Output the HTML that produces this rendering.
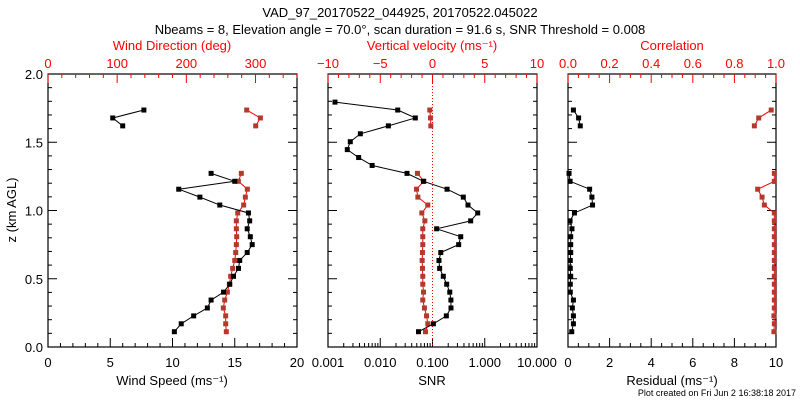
<!DOCTYPE html>
<html><head><meta charset="utf-8"><style>
html,body{margin:0;padding:0;background:#fff}
svg{display:block;font-family:"Liberation Sans",sans-serif}
</style></head><body>
<svg id="c" width="800" height="400" viewBox="0 0 800 400" xmlns="http://www.w3.org/2000/svg">
<text x="400" y="17" text-anchor="middle" font-size="13">VAD_97_20170522_044925, 20170522.045022</text>
<text x="400" y="34" text-anchor="middle" font-size="13">Nbeams = 8, Elevation angle = 70.0°, scan duration = 91.6 s, SNR Threshold = 0.008</text>
<text transform="translate(16,210) rotate(-90)" text-anchor="middle" font-size="13">z (km AGL)</text>
<text x="796" y="396" text-anchor="end" font-size="9">Plot created on Fri Jun  2 16:38:18 2017</text>
<g id="g"></g>
</svg>
<script>
const levels=[0.112,0.170,0.228,0.286,0.344,0.402,0.460,0.518,0.576,0.634,0.692,0.750,0.808,0.866,0.924,0.982,1.040,1.098,1.156,1.214,1.272,1.330,1.388,1.446,1.504,1.562,1.620,1.678,1.736,1.794];
const lowIdx=[0,1,2,3,4,5,6,7,8,9,10,11,12,13,14,15,16,17,18,19,20];
const highIdx=[26,27,28];
const windSpeed=[10.15,10.7,11.7,12.8,13.1,14.1,14.6,14.9,15.3,15.4,16.0,16.4,16.25,16.0,16.2,16.1,13.8,12.2,10.5,15.0,13.1];
const windSpeedHigh=[6.0,5.2,7.7];
const windDir=[257.8,256.9,256.9,253.5,255.5,259.3,262.2,264.1,267,270,271.4,272.3,272.8,272.3,272.3,274.3,282.9,285.3,288.2,275.2,279.5];
const windDirHigh=[300.3,307,287.3];
const snrIdx=[0,1,2,3,4,5,6,7,8,9,10,11,12,13,14,15,16,17,18,19,20,21,22,23,24,25,26,27,28,29];
const snr=[0.054,0.104,0.184,0.226,0.225,0.214,0.187,0.161,0.137,0.133,0.144,0.317,0.347,0.120,0.538,0.733,0.478,0.389,0.190,0.067,0.0325,0.0070,0.00386,0.00234,0.00267,0.00416,0.0143,0.0469,0.0216,0.00136];
const wVel=[-0.67,-0.45,-0.57,-0.77,-0.93,-0.86,-0.93,-0.93,-0.96,-0.99,-0.96,-0.93,-0.93,-0.93,-0.73,-1.02,-0.45,-1.40,-1.53,-0.83,-1.44];
const wVelHigh=[-0.16,-0.19,-0.26];
const resid=[0.18,0.26,0.26,0.21,0.26,0.11,0.11,0.13,0.11,0.11,0.13,0.13,0.13,0.19,0.10,0.31,1.18,1.15,1.04,0.10,0.05];
const residHigh=[0.59,0.51,0.26];
const corr=[0.990,0.992,0.990,0.992,0.992,0.992,0.992,0.992,0.992,0.992,0.992,0.992,0.992,0.992,0.992,0.992,0.944,0.933,0.912,0.992,0.992];
const corrHigh=[0.896,0.917,0.977];

const NS='http://www.w3.org/2000/svg';
const G=document.getElementById('g');
const RED='#ff0000', MRK='#b33a2a';
const Y0=347,Y1=74;
const yz=z=>Y0-(z/2.0)*(Y0-Y1);
function el(t,a,p){const e=document.createElementNS(NS,t);for(const k in a)e.setAttribute(k,a[k]);(p||G).appendChild(e);return e;}
function txt(x,y,s,col,size,anchor,name){const t=el('text',{x:x,y:y,'font-size':size||13,fill:col||'#000','text-anchor':anchor||'middle'});t.textContent=s;


return t;}

function panel(x0,x1,pn,left){
  const r=el('rect',{x:x0,y:Y1,width:x1-x0,height:Y0-Y1,fill:'none',stroke:'#000','stroke-width':1.2});
  
  
  // y ticks
  for(let i=0;i<=20;i++){const z=i*0.1,y=yz(z),L=(i%5==0)?9:4;
    el('line',{x1:x0,y1:y,x2:x0+L,y2:y,stroke:'#000'});
    el('line',{x1:x1,y1:y,x2:x1-L,y2:y,stroke:'#000'});
    if(left&&i%5==0)txt(x0-5,y+5,z.toFixed(1),'#000',13,'end','y-tick-label');
  }
}
function linAxis(x0,x1,min,max,major,minor,top,col,fmt,name){
  const y=top?Y1:Y0,d=top?1:-1;
  const n=Math.round((max-min)/minor);
  for(let i=0;i<=n;i++){const v=min+i*minor,x=x0+(v-min)/(max-min)*(x1-x0);
    const isM=Math.abs(v/major-Math.round(v/major))<1e-6;
    el('line',{x1:x,y1:y,x2:x,y2:y+d*(isM?9:4),stroke:col});
    if(isM)txt(x,top?y-6:y+20,fmt(v),col,13,'middle',name);
  }
}
function logAxis(x0,x1,labs){
  const W=(x1-x0)/4;
  for(let dcd=0;dcd<4;dcd++)for(let m=1;m<=9;m++){const x=x0+(dcd+Math.log10(m))*W;
    el('line',{x1:x,y1:Y0,x2:x,y2:Y0-(m==1?9:4),stroke:'#000'});}
  el('line',{x1:x1,y1:Y0,x2:x1,y2:Y0-9,stroke:'#000'});
  for(let i=0;i<labs.length;i++)txt(x0+i*W,Y0+20,labs[i],'#000',13,'middle','snr-tick-label');
}
function series(xs,idx,xf,lc,mc,name){
  const pts=idx.map((k,i)=>[xf(xs[i]),yz(levels[k])]);
  const p=el('polyline',{points:pts.map(p=>p.join(',')).join(' '),fill:'none',stroke:lc,'stroke-width':1});
  
  
  pts.forEach(q=>{const m=el('rect',{x:q[0]-2.5,y:q[1]-2.5,width:5,height:5,fill:mc});
    
    });
}
// Panel 1
const P1=[48,297];
panel(P1[0],P1[1],'wind',true);
linAxis(P1[0],P1[1],0,20,5,1,false,'#000',v=>String(v),'speed-tick-label');
linAxis(P1[0],P1[1],0,360,100,20,true,RED,v=>String(v),'direction-tick-label');
const xs1=v=>P1[0]+v/20*(P1[1]-P1[0]), xd1=v=>P1[0]+v/360*(P1[1]-P1[0]);
series(windDir,lowIdx,xd1,RED,MRK,'wind-direction');
series(windDirHigh,highIdx,xd1,RED,MRK,'wind-direction-upper');
series(windSpeed,lowIdx,xs1,'#000','#000','wind-speed');
series(windSpeedHigh,highIdx,xs1,'#000','#000','wind-speed-upper');
txt(172,50,'Wind Direction (deg)',RED,13,'middle','top-axis-title-direction');
txt(172,385,'Wind Speed (ms\u207B\u00B9)','#000',13,'middle','x-axis-title-speed');
// Panel 2
const P2=[328,537];
panel(P2[0],P2[1],'snr',false);
logAxis(P2[0],P2[1],['0.001','0.010','0.100','1.000','10.000']);
linAxis(P2[0],P2[1],-10,10,5,1,true,RED,v=>(v<0?'\u2212'+(-v):String(v)),'velocity-tick-label');
const xv=v=>P2[0]+(v+10)/20*(P2[1]-P2[0]), xl=v=>P2[0]+(Math.log10(v)+3)/4*(P2[1]-P2[0]);
const zl=el('line',{x1:xv(0),y1:Y1,x2:xv(0),y2:Y0,stroke:RED,'stroke-dasharray':'1,2'});


series(wVel,lowIdx,xv,RED,MRK,'vertical-velocity');
series(wVelHigh,highIdx,xv,RED,MRK,'vertical-velocity-upper');
series(snr,snrIdx,xl,'#000','#000','snr');
txt(432,50,'Vertical velocity (ms\u207B\u00B9)',RED,13,'middle','top-axis-title-velocity');
txt(432,385,'SNR','#000',13,'middle','x-axis-title-snr');
// Panel 3
const P3=[568,776];
panel(P3[0],P3[1],'residual',false);
linAxis(P3[0],P3[1],0,10,2,0.5,false,'#000',v=>String(v),'residual-tick-label');
linAxis(P3[0],P3[1],0,1,0.2,0.05,true,RED,v=>v.toFixed(1),'correlation-tick-label');
const xr=v=>P3[0]+v/10*(P3[1]-P3[0]), xc=v=>P3[0]+v*(P3[1]-P3[0]);
series(corr,lowIdx,xc,RED,MRK,'correlation');
series(corrHigh,highIdx,xc,RED,MRK,'correlation-upper');
series(resid,lowIdx,xr,'#000','#000','residual');
series(residHigh,highIdx,xr,'#000','#000','residual-upper');
txt(672,50,'Correlation',RED,13,'middle','top-axis-title-correlation');
txt(672,385,'Residual (ms\u207B\u00B9)','#000',13,'middle','x-axis-title-residual');
</script>
</body></html>
